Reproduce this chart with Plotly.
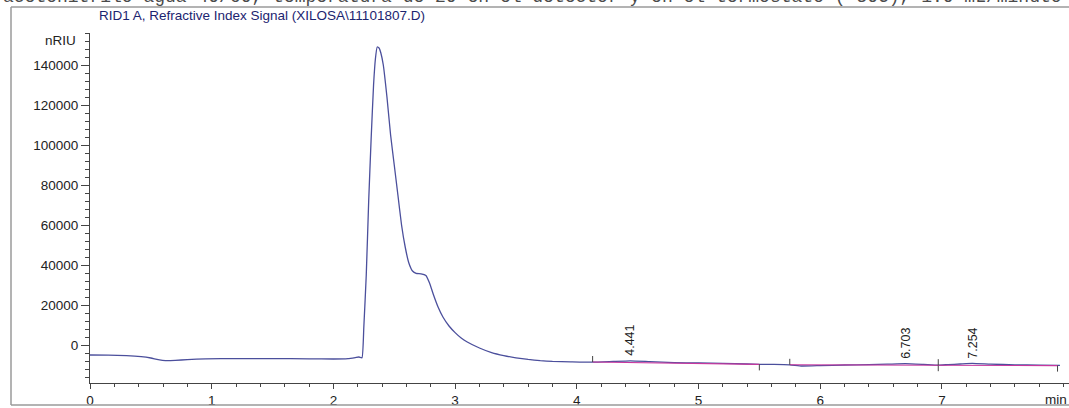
import plotly.graph_objects as go

# Refractive index detector signal (nRIU) vs retention time (min)
time_min = [0.00, 0.15, 0.30, 0.42, 0.50, 0.56, 0.62, 0.70, 0.80, 0.95, 1.20, 1.50, 1.80, 2.00,
            2.12, 2.18, 2.21, 2.235, 2.25, 2.27, 2.29, 2.31, 2.33, 2.345, 2.36, 2.375, 2.39,
            2.41, 2.44, 2.47, 2.50, 2.53, 2.56, 2.59, 2.62, 2.65, 2.68, 2.72, 2.76, 2.79,
            2.82, 2.86, 2.90, 2.95, 3.00, 3.05, 3.10, 3.20, 3.30, 3.40, 3.50, 3.60, 3.70,
            3.80, 3.95, 4.13, 4.30, 4.44, 4.60, 4.80, 5.00, 5.20, 5.40, 5.50, 5.62, 5.75,
            5.85, 6.00, 6.20, 6.40, 6.55, 6.70, 6.85, 6.97, 7.05, 7.15, 7.25, 7.40, 7.60,
            7.80, 7.97]
signal_nriu = [-5000, -5100, -5300, -5800, -6500, -7300, -7800, -7700, -7300, -6900, -6800, -6800,
               -6900, -7000, -6800, -6300, -6000, -6400, 9000, 35000, 72000, 103000, 130000,
               143000, 149000, 148500, 146000, 140000, 124000, 105000, 90000, 75000, 60000,
               49000, 41000, 37000, 35800, 35600, 34800, 31000, 25500, 19000, 14000, 9500,
               6200, 3500, 1500, -1500, -3800, -5300, -6400, -7200, -7800, -8200, -8400,
               -8600, -8200, -7900, -8300, -8800, -9000, -9200, -9500, -9700, -9700, -9900,
               -10500, -10300, -10000, -9800, -9600, -9300, -9700, -10100, -9800, -9500,
               -9200, -9600, -9900, -10100, -10200]

# Integration baselines: start/end times and baseline levels
base_start_t = [4.13, 5.75, 6.97]
base_end_t = [5.50, 6.97, 7.95]
base_start_v = [-8500, -9900, -10100]
base_end_v = [-9700, -10100, -10300]

# Labelled peaks: retention time and apex signal
peak_rt = [4.441, 6.703, 7.254]
peak_val = [-7900, -9300, -9200]

y_major = list(range(0, 160000, 20000))
x_major = list(range(0, 8))

title_text = "RID1 A, Refractive Index Signal (XILOSA\\11101807.D)"
header_text = ("acetonitrilo agua 40/60, temperatura de 20 en el detector y en el "
               "termostato ( 30C), 1.0 mL/minuto")

trace_color = "#4b4f9c"
base_color = "#c8369e"
axis_color = "#444444"
sans = "Liberation Sans, Arial, sans-serif"
label_size = 13.5

fig = go.Figure()
fig.add_trace(go.Scatter(x=time_min, y=signal_nriu, mode="lines",
                         line=dict(color=trace_color, width=1.3, shape="spline",
                                   smoothing=0.4),
                         hoverinfo="skip"))

# baseline segments with start/end markers
tick_h = 3000
for ts, te, vs, ve in zip(base_start_t, base_end_t, base_start_v, base_end_v):
    fig.add_trace(go.Scatter(x=[ts, te], y=[vs, ve], mode="lines",
                             line=dict(color=base_color, width=1.1), hoverinfo="skip"))
    fig.add_trace(go.Scatter(x=[ts, ts], y=[vs, vs + tick_h], mode="lines",
                             line=dict(color=axis_color, width=1), hoverinfo="skip"))
    fig.add_trace(go.Scatter(x=[te, te], y=[ve - tick_h, ve], mode="lines",
                             line=dict(color=axis_color, width=1), hoverinfo="skip"))

annotations = []
for rt, v in zip(peak_rt, peak_val):
    annotations.append(dict(x=rt, y=v, xref="x", yref="y", text=f"{rt:.3f}",
                            textangle=-90, showarrow=False, xanchor="center",
                            yanchor="bottom", yshift=3,
                            font=dict(family=sans, size=12.5, color="#222222")))

annotations += [
    dict(x=(97 - 90) / 979, y=(383 - 15) / 350, xref="paper", yref="paper",
         text=title_text, showarrow=False, xanchor="left", yanchor="middle",
         font=dict(family=sans, size=13.5, color="#1c2470")),
    dict(x=(78 - 90) / 979, y=(383 - 40) / 350, xref="paper", yref="paper",
         text="nRIU", showarrow=False, xanchor="right", yanchor="middle",
         font=dict(family=sans, size=label_size, color="#222222")),
    dict(x=(1056 - 90) / 979, y=(383 - 400) / 350, xref="paper", yref="paper",
         text="min", showarrow=False, xanchor="center", yanchor="middle",
         font=dict(family=sans, size=label_size, color="#222222")),
    dict(x=(1 - 90) / 979, y=(383 - 9) / 350, xref="paper", yref="paper",
         text=header_text, showarrow=False, xanchor="left", yanchor="bottom",
         font=dict(family="Liberation Mono, Courier New, monospace", size=18,
                   color="#4a4a4a")),
]

frame_color = "#9a9a9a"
shapes = [
    dict(type="line", xref="paper", yref="paper", x0=(11 - 90) / 979, x1=1.01,
         y0=(383 - 7) / 350, y1=(383 - 7) / 350, line=dict(color=frame_color, width=1.5)),
    dict(type="line", xref="paper", yref="paper", x0=(11 - 90) / 979, x1=1.01,
         y0=(383 - 405) / 350, y1=(383 - 405) / 350, line=dict(color=frame_color, width=1.5)),
    dict(type="line", xref="paper", yref="paper", x0=(11 - 90) / 979, x1=(11 - 90) / 979,
         y0=(383 - 7) / 350, y1=(383 - 405) / 350, line=dict(color=frame_color, width=1.5)),
]

fig.update_layout(
    width=1069, height=408,
    margin=dict(l=90, r=0, t=33, b=25),
    paper_bgcolor="white", plot_bgcolor="white",
    showlegend=False,
    annotations=annotations,
    shapes=shapes,
    xaxis=dict(range=[0, 979 / 121.7], tickvals=x_major, ticktext=[str(v) for v in x_major],
               showgrid=False, zeroline=False, showline=True, linecolor=axis_color,
               linewidth=1, ticks="outside", ticklen=5, tickcolor=axis_color,
               tickfont=dict(family=sans, size=label_size, color="#222222"),
               minor=dict(dtick=0.2, tick0=0, ticks="outside", ticklen=3,
                          tickcolor=axis_color, showgrid=False)),
    yaxis=dict(range=[-19000, 156000], tickvals=y_major, ticktext=[str(v) for v in y_major],
               showgrid=False, zeroline=False, showline=True, linecolor=axis_color,
               linewidth=1, ticks="outside", ticklen=8, tickcolor=axis_color,
               tickfont=dict(family=sans, size=label_size, color="#222222"),
               minor=dict(dtick=4000, tick0=0, ticks="outside", ticklen=4,
                          tickcolor=axis_color, showgrid=False)),
)

fig.write_html("out.html")
